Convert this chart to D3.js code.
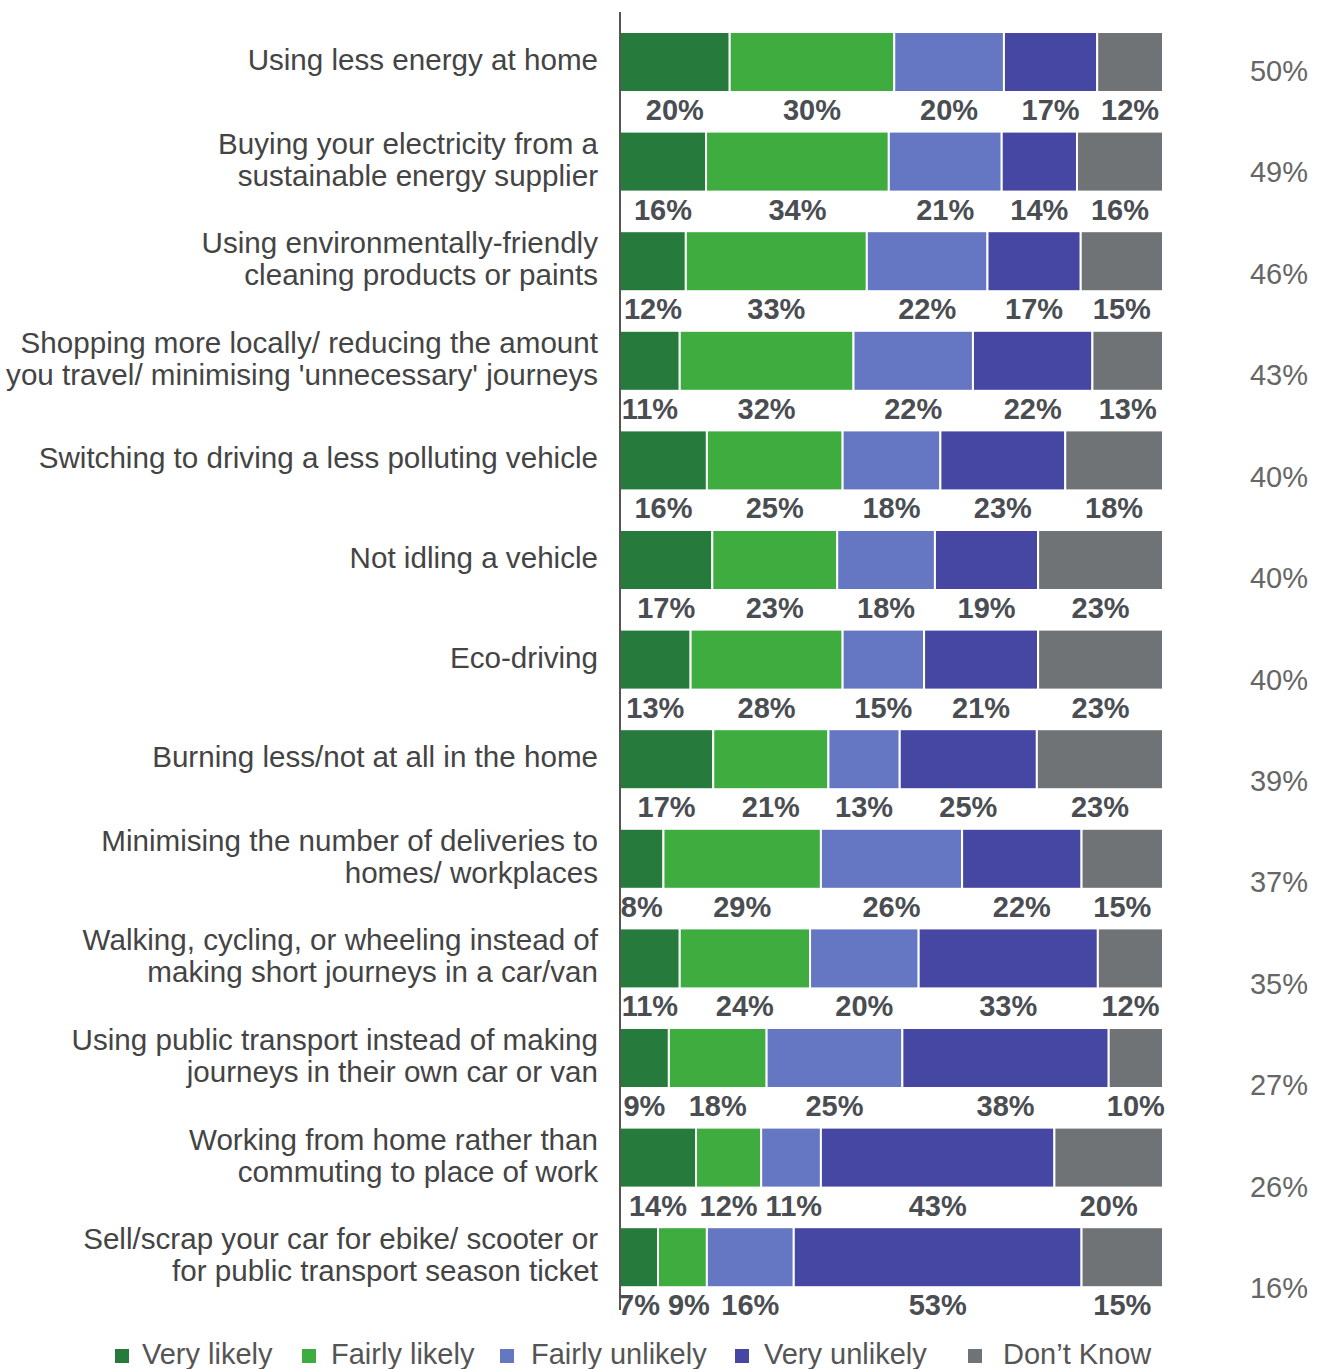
<!DOCTYPE html>
<html>
<head>
<meta charset="utf-8">
<script src="https://cdn.jsdelivr.net/npm/d3@7"></script>
<style>
  html, body { margin: 0; padding: 0; background: #fff; }
  svg { display: block; font-family: "Liberation Sans", Arial, sans-serif; }
</style>
</head>
<body>
<svg id="chart" width="1319" height="1369"></svg>
<script>
// Survey actions, each label split into its display lines
const categories = [
  ["Using less energy at home"],
  ["Buying your electricity from a", "sustainable energy supplier"],
  ["Using environmentally-friendly", "cleaning products or paints"],
  ["Shopping more locally/ reducing the amount", "you travel/ minimising 'unnecessary' journeys"],
  ["Switching to driving a less polluting vehicle"],
  ["Not idling a vehicle"],
  ["Eco-driving"],
  ["Burning less/not at all in the home"],
  ["Minimising the number of deliveries to", "homes/ workplaces"],
  ["Walking, cycling, or wheeling instead of", "making short journeys in a car/van"],
  ["Using public transport instead of making", "journeys in their own car or van"],
  ["Working from home rather than", "commuting to place of work"],
  ["Sell/scrap your car for ebike/ scooter or", "for public transport season ticket"]
];

const seriesNames = ["Very likely", "Fairly likely", "Fairly unlikely", "Very unlikely", "Don\u2019t Know"];
const seriesColors = ["#267a3c", "#3fac3f", "#6577c2", "#4646a3", "#6f7375"];

const veryLikely     = [20, 16, 12, 11, 16, 17, 13, 17,  8, 11,  9, 14,  7];
const fairlyLikely   = [30, 34, 33, 32, 25, 23, 28, 21, 29, 24, 18, 12,  9];
const fairlyUnlikely = [20, 21, 22, 22, 18, 18, 15, 13, 26, 20, 25, 11, 16];
const veryUnlikely   = [17, 14, 17, 22, 23, 19, 21, 25, 22, 33, 38, 43, 53];
const dontKnow       = [12, 16, 15, 13, 18, 23, 23, 23, 15, 12, 10, 20, 15];

// Net "likely" shown in the right-hand column
const netLikely = [50, 49, 46, 43, 40, 40, 40, 39, 37, 35, 27, 26, 16];

const keys = ["vl", "fl", "fu", "vu", "dk"];
const seriesArrays = [veryLikely, fairlyLikely, fairlyUnlikely, veryUnlikely, dontKnow];
const rows = categories.map((c, i) => {
  const r = { id: i, label: c };
  keys.forEach((k, j) => { r[k] = seriesArrays[j][i]; });
  return r;
});

const svg = d3.select("#chart");
const ids = rows.map(r => r.id);

const x = d3.scaleLinear().domain([0, 1]).range([620, 1163]);
const y = d3.scaleBand().domain(ids)
  .range([32, 32 + 12 * 99.6 + 60])
  .paddingInner(0.3976).paddingOuter(0);
const yNet = d3.scalePoint().domain(ids).range([71, 1288]);
const color = d3.scaleOrdinal().domain(keys).range(seriesColors);

const stacked = d3.stack().keys(keys).offset(d3.stackOffsetExpand)(rows);

// Bars
const layers = svg.append("g").selectAll("g").data(stacked).join("g")
  .attr("fill", d => color(d.key));

layers.selectAll("rect").data(d => d).join("rect")
  .attr("x", d => x(d[0]))
  .attr("y", d => y(d.data.id))
  .attr("width", d => x(d[1]) - x(d[0]))
  .attr("height", y.bandwidth())
  .attr("stroke", "#fff")
  .attr("stroke-width", 2);

// Value labels below each segment, one group per row
const labelRows = svg.append("g").selectAll("g").data(rows).join("g");
labelRows.each(function(row, ri) {
  const g = d3.select(this);
  const items = stacked.map(s => ({ key: s.key, v: s[ri] }));
  const texts = g.selectAll("text").data(items).join("text")
    .attr("x", d => (x(d.v[0]) + x(d.v[1])) / 2)
    .attr("y", y(row.id) + y.bandwidth() + 28)
    .attr("text-anchor", "middle")
    .attr("font-size", 29)
    .attr("font-weight", "bold")
    .attr("fill", "#4a4d52")
    .text(d => row[d.key] + "%");
  // keep narrow neighbouring labels from touching
  let prevRight = -Infinity;
  texts.each(function(d) {
    const w = this.getComputedTextLength();
    let cx = +this.getAttribute("x");
    if (cx - w / 2 < prevRight + 8) cx = prevRight + 8 + w / 2;
    this.setAttribute("x", cx);
    prevRight = cx + w / 2;
  });
});

// Vertical axis line
svg.append("line")
  .attr("x1", 620).attr("x2", 620)
  .attr("y1", 12).attr("y2", 1310)
  .attr("stroke", "#555").attr("stroke-width", 2);

// Category labels
const catText = svg.append("g").selectAll("text").data(rows).join("text")
  .attr("text-anchor", "end")
  .attr("font-size", 29.6)
  .attr("fill", "#444");
catText.each(function(d) {
  const n = d.label.length;
  const cy = y(d.id) + y.bandwidth() / 2 - 2;
  d3.select(this).selectAll("tspan").data(d.label).join("tspan")
    .attr("x", 598)
    .attr("y", (t, i) => cy - (n - 1) * 16 + i * 32 + 10)
    .text(t => t);
});

// Net likely column
svg.append("g").selectAll("text").data(rows).join("text")
  .attr("x", 1308)
  .attr("y", d => yNet(d.id) + 10)
  .attr("text-anchor", "end")
  .attr("font-size", 29)
  .attr("fill", "#666")
  .text(d => netLikely[d.id] + "%");

// Legend
const legendX = [115, 302, 500, 735, 968];
const legendTextX = [142, 331, 531, 764, 1003];
const legend = svg.append("g").selectAll("g").data(keys).join("g");
legend.append("rect")
  .attr("x", (d, i) => legendX[i])
  .attr("y", 1349)
  .attr("width", 14).attr("height", 14)
  .attr("fill", d => color(d));
legend.append("text")
  .attr("x", (d, i) => legendTextX[i])
  .attr("y", 1364)
  .attr("font-size", 29)
  .attr("fill", "#555")
  .text((d, i) => seriesNames[i]);
</script>
</body>
</html>
